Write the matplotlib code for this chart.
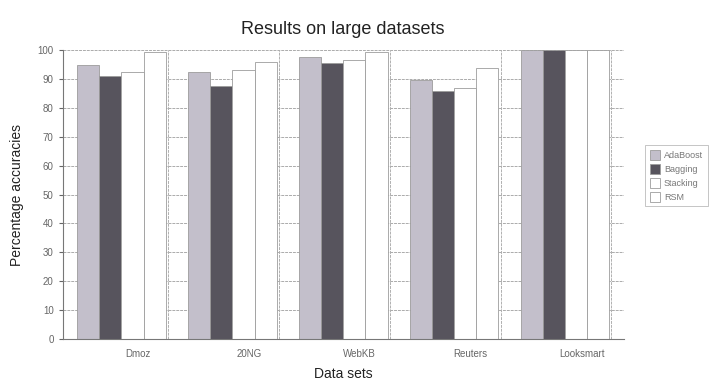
import numpy as np
import matplotlib
matplotlib.use("Agg")
import matplotlib.pyplot as plt

plt.rcParams['font.family'] = ['Liberation Sans', 'DejaVu Sans']

# dados
datasets = ["Dmoz", "20NG", "WebKB", "Reuters", "Looksmart"]
metodos = ["AdaBoost", "Bagging", "Stacking", "RSM"]
adaboost = [95, 92.5, 97.5, 89.5, 100]
bagging = [91, 87.5, 95.5, 86, 100]
stacking = [92.5, 93, 96.5, 87, 100]
rsm = [99.5, 96, 99.5, 94, 100]

series = [adaboost, bagging, stacking, rsm]
cores = ["#c3bfcb", "#57545d", "white", "white"]

fig = plt.figure(figsize=(7.21, 3.86), dpi=100)
ax = fig.add_axes([0.087, 0.122, 0.778, 0.748])

x = np.arange(len(datasets))
w = 0.2

# grade horizontal e linhas verticais entre grupos
for v in range(10, 101, 10):
    ax.axhline(v, color="#ababab", lw=0.7, ls=(0, (3, 1)), zorder=0)
for i in x:
    ax.axvline(i + 0.42, color="#b0b0b0", lw=0.7, ls=(0, (3, 1)), zorder=0)

for k in range(len(metodos)):
    ax.bar(x + (k - 1.5) * w, series[k], width=w, color=cores[k],
           edgecolor="#9c9c9c", linewidth=0.6, label=metodos[k], zorder=2)

ax.set_xlim(-0.53, 4.53)
ax.set_ylim(0, 100)
ax.set_yticks(range(0, 101, 10))
ax.set_xticks(x + 0.15)
ax.set_xticklabels(datasets)
ax.tick_params(axis="both", labelsize=7, colors="#666666", length=3)
ax.tick_params(axis="x", length=0, pad=7)

for s in ["top", "right"]:
    ax.spines[s].set_visible(False)
ax.spines["left"].set_color("#777777")
ax.spines["bottom"].set_color("#777777")

ax.set_title("Results on large datasets", fontsize=13, color="#222222", pad=12)
ax.set_xlabel("Data sets", fontsize=10, color="#222222", labelpad=6)
ax.set_ylabel("Percentage accuracies", fontsize=10, color="#222222", labelpad=10)

leg = ax.legend(loc="center left", bbox_to_anchor=(1.03, 0.565), fontsize=6.5,
                frameon=True, handlelength=1.2, handleheight=1.3,
                borderpad=0.5, labelspacing=0.45, handletextpad=0.4,
                fancybox=False)
leg.get_frame().set_edgecolor("#aaaaaa")
leg.get_frame().set_linewidth(0.6)
for t in leg.get_texts():
    t.set_color("#777777")

fig.savefig("out.png", dpi=100)
